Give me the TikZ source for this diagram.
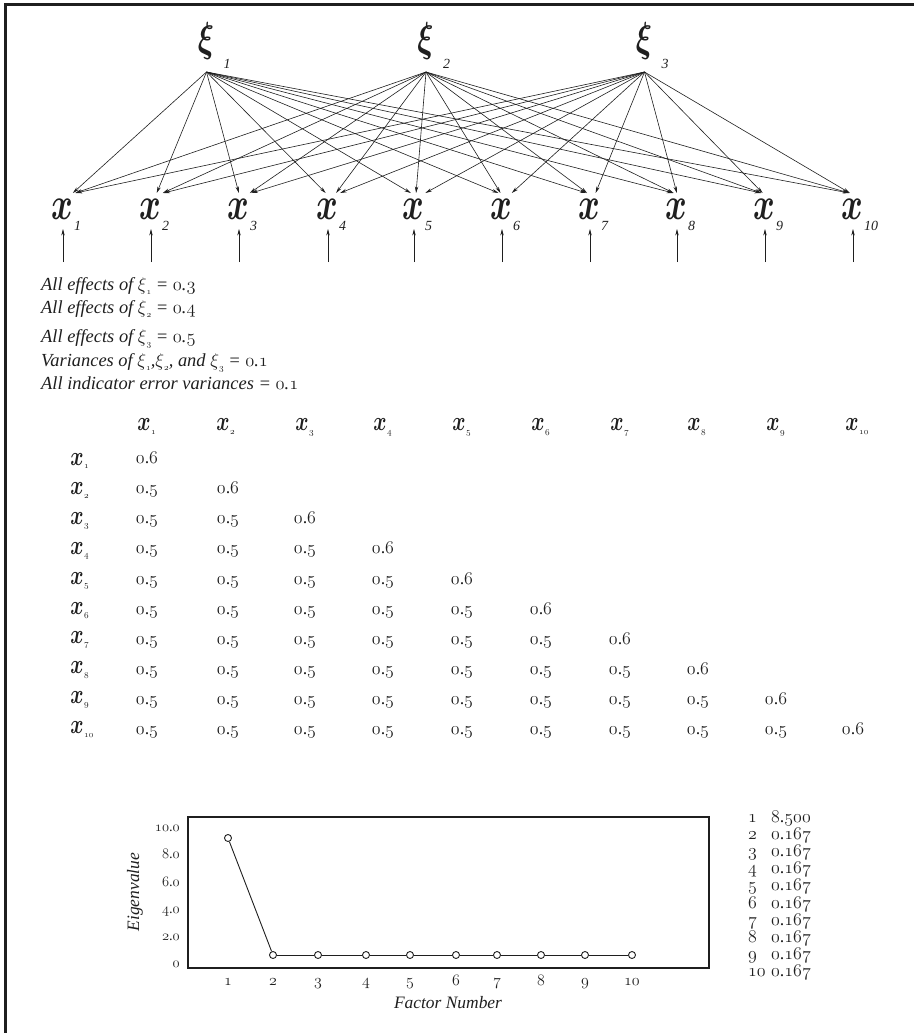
\documentclass[tikz,border=0pt]{standalone}
\usepackage{fix-cm}
\usepackage{fontspec}
\setmainfont{Liberation Serif}
\usepackage{graphicx}
\usetikzlibrary{arrows.meta}
\newcommand\os[1]{{\usefont{OML}{cmm}{m}{it}#1}}
\newcommand\fs[1]{\fontsize{#1}{#1}\selectfont}
\newcommand\osub[1]{\raisebox{-4bp}{\fs{9}\os{#1}}}
\colorlet{ink}{black!88}
\tikzset{
  arr/.style={draw=ink, line width=0.6bp, -{Stealth[length=6.5bp,width=3.4bp]}},
  frame/.style={draw=ink, line width=2.6bp},
  xivar/.style={inner sep=0pt, text=ink, font=\fs{42}\boldmath, xscale=0.72},
  xisub/.style={inner sep=0pt, text=ink, font=\fs{14}\itshape},
  xvar/.style={inner sep=0pt, text=ink, font=\fs{46}\boldmath, xscale=0.72},
  xsub/.style={inner sep=0pt, text=ink, font=\fs{14}\itshape},
  note/.style={inner sep=0pt, anchor=base west, text=ink, font=\fs{18.5}\itshape},
  mhead/.style={inner sep=0pt, anchor=base, text=ink, font=\fs{27}\boldmath, xscale=0.75},
  msub/.style={inner sep=0pt, anchor=west, text=ink, font=\fs{9}},
  mval/.style={inner sep=0pt, anchor=base, text=ink, font=\fs{18}},
  plotbox/.style={draw=ink, line width=1.3bp, inner sep=0pt},
  pt/.style={circle, draw=ink, fill=white, line width=0.9bp, minimum size=7bp, inner sep=0pt},
  pline/.style={draw=ink, line width=0.9bp},
  ytick/.style={inner sep=0pt, anchor=base east, text=ink, font=\fs{14.5}},
  xtick/.style={inner sep=0pt, anchor=base, text=ink, font=\fs{16}},
  axlab/.style={inner sep=0pt, text=ink, font=\fs{17.5}\itshape},
  lst/.style={inner sep=0pt, anchor=base west, text=ink, font=\fs{18}},
}
\def\xlist{1/62,2/150,3/238,4/327,5/413,6/501,7/589,8/676,9/764,10/852}
\def\hlist{1/144/147,2/223/228,3/302/305,4/380/383,5/459/462,6/538/541,7/617/620,8/694/698,9/773/776,10/852/853}
\def\plist{1/228/838,2/273/955,3/318/955,4/366/955,5/410/955,6/456/955,7/497/955,8/541/955,9/585/955,10/632/955}
\begin{document}
\begin{tikzpicture}[x=1bp,y=-1bp]
\useasboundingbox (0,0) rectangle (914,1033);
\fill[white] (0,0) rectangle (914,1033);
\draw[frame, line join=miter] (5.5,1033) -- (5.5,4.5) -- (914,4.5);

% latent variables
\foreach \k/\c in {1/206,2/425.5,3/644}{
  \node[xivar] (xi\k) at (\c,41) {$\xi$};
  \node[xisub] (xis\k) at (\c+21,64) {\k};
  \coordinate (a\k) at (\c+0.5,72);
}

% indicators
\foreach \i/\c in \xlist{
  \node[xvar] (x\i) at (\c,209) {$x$};
  \node[xsub, anchor=west] (xs\i) at (\c+12,226) {\i};
  \coordinate (e\i) at (\c+1,262);
  \coordinate (eb\i) at (\c+1,229);
  \draw[arr] (e\i) -- (eb\i);
}

% loadings
\foreach \k/\s in {1/207,2/425,3/644}{
  \foreach \i/\c in \xlist{
    \pgfmathsetmacro\d{(\s-\c)/100}
    \pgfmathsetmacro\r{\d/sqrt(\d*\d+1.7689)}
    \pgfmathsetmacro\o{\r>0 ? 2+12*\r : 2+5*\r}
    \coordinate (t\k-\i) at (\c+\o,193);
    \draw[arr] (a\k) -- (t\k-\i);
  }
}

% notes
\node[note] (n1) at (41,290) {All effects of $\xi$\osub{1} = \os{0}.\os{3}};
\node[note] (n2) at (41,313) {All effects of $\xi$\osub{2} = \os{0}.\os{4}};
\node[note] (n3) at (41,342) {All effects of $\xi$\osub{3} = \os{0}.\os{5}};
\node[note] (n4) at (41,366) {Variances of $\xi$\osub{1},$\xi$\osub{2}, and $\xi$\osub{3} = \os{0}.\os{1}};
\node[note] (n5) at (41,389) {All indicator error variances = \os{0}.\os{1}};

% matrix header
\foreach \j/\h/\v in \hlist{
  \node[mhead] (h\j) at (\h,430) {$x$};
  \node[msub] (hs\j) at (\h+7,433) {\os{\j}};
}
% matrix rows
\foreach \i in {1,...,10}{
  \pgfmathsetmacro\yb{465+29.8*(\i-1)}
  \pgfmathsetmacro\yv{463.5+30.15*(\i-1)}
  \node[mhead] (r\i) at (77,\yb) {$x$};
  \node[msub] (rs\i) at (84,\yb+2) {\os{\i}};
  \foreach \j/\h/\v in \hlist{
    \ifnum\j<\i \node[mval] (v\i-\j) at (\v,\yv) {\os{0}.\os{5}};\fi
    \ifnum\j=\i \node[mval] (v\i-\j) at (\v,\yv) {\os{0}.\os{6}};\fi
  }
}

% scree plot
\node[plotbox, minimum width=521bp, minimum height=151bp] (box) at (448.5,892.5) {};
\node[ytick] (y10) at (180,831) {\os{10}.\os{0}};
\node[ytick] (y8) at (180,858) {\os{8}.\os{0}};
\node[ytick] (y6) at (180,886) {\os{6}.\os{0}};
\node[ytick] (y4) at (180,913) {\os{4}.\os{0}};
\node[ytick] (y2) at (180,940) {\os{2}.\os{0}};
\node[ytick] (y0) at (180,967) {\os{0}};
\foreach \k/\px/\py in \plist{
  \node[pt] (p\k) at (\px,\py) {};
  \node[xtick] (xt\k) at (\px,985) {\os{\k}};
}
\foreach \k [evaluate=\k as \n using int(\k+1)] in {1,...,9}{
  \draw[pline] (p\k) -- (p\n);
}
\node[axlab, rotate=90] (ylab) at (135,892) {Eigenvalue};
\node[axlab, anchor=base] (xlab) at (448,1008) {Factor Number};

% eigenvalue list
\foreach \k in {1,...,10}{
  \pgfmathsetmacro\yb{822+17.2*(\k-1)}
  \node[lst] (ln\k) at (748,\yb) {\os{\k}};
  \ifnum\k=1
    \node[lst] (lv\k) at (771,\yb) {\os{8}.\os{500}};
  \else
    \node[lst] (lv\k) at (771,\yb) {\os{0}.\os{167}};
  \fi
}
\end{tikzpicture}
\end{document}
